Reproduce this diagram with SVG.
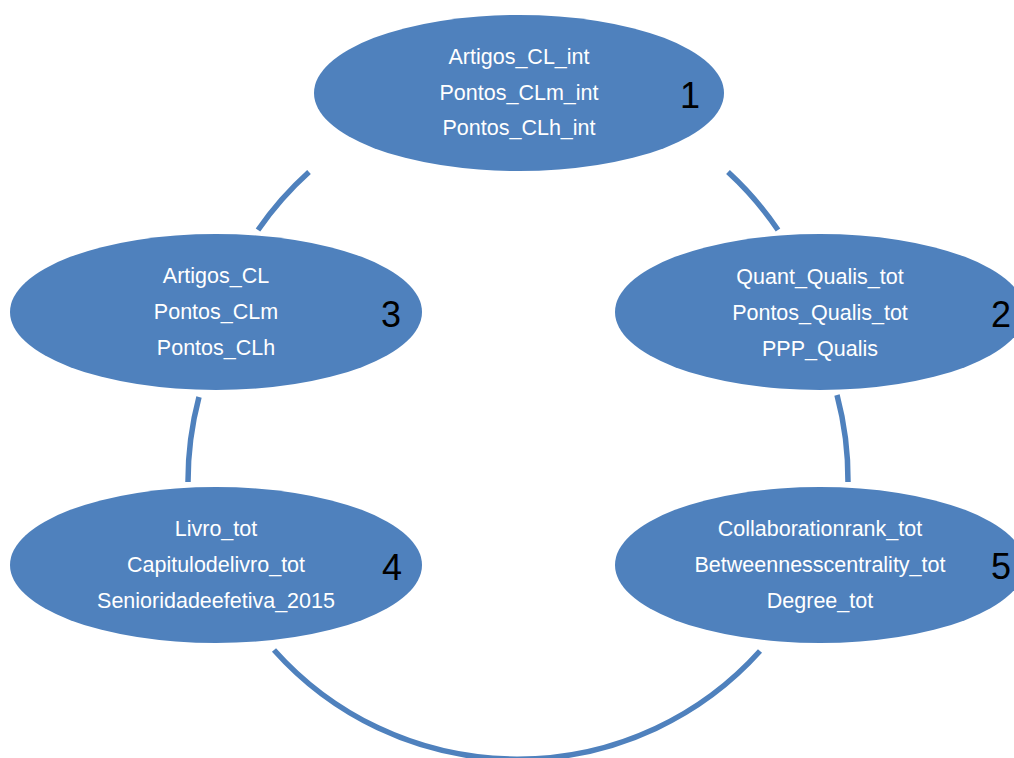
<svg xmlns="http://www.w3.org/2000/svg" width="1014" height="758" viewBox="0 0 1014 758">
<style>
.node{fill:#4F81BD;}
.lbl{fill:#FFFFFF;font-family:"Liberation Sans",Arial,sans-serif;font-size:21.5px;text-anchor:middle;}
.num{fill:#000000;font-family:"Liberation Sans",Arial,sans-serif;font-size:36px;text-anchor:middle;}
.conn{fill:none;stroke:#4F81BD;stroke-width:5.5;stroke-linecap:butt;}
</style>
<rect width="1014" height="758" fill="#FFFFFF"/>
<g id="connectors">
<path class="conn" d="M258,230 A330,330 0 0 1 309,172"/>
<path class="conn" d="M728,172 A330,330 0 0 1 778,230"/>
<path class="conn" d="M837,395 A330,330 0 0 1 848,482"/>
<path class="conn" d="M760,651 A326,326 0 0 1 274,650"/>
<path class="conn" d="M188,482 A330,330 0 0 1 199,397"/>
</g>
<g id="node1">
<ellipse class="node" cx="519" cy="93" rx="205" ry="78"/>
<text class="lbl" x="519" y="64">Artigos_CL_int</text>
<text class="lbl" x="519" y="100">Pontos_CLm_int</text>
<text class="lbl" x="519" y="135">Pontos_CLh_int</text>
<text class="num" x="690" y="108">1</text>
</g>
<g id="node2">
<ellipse class="node" cx="820" cy="312" rx="205" ry="78"/>
<text class="lbl" x="820" y="284">Quant_Qualis_tot</text>
<text class="lbl" x="820" y="320">Pontos_Qualis_tot</text>
<text class="lbl" x="820" y="356">PPP_Qualis</text>
<text class="num" x="1001" y="327">2</text>
</g>
<g id="node3">
<ellipse class="node" cx="216" cy="312" rx="206" ry="78"/>
<text class="lbl" x="216" y="283">Artigos_CL</text>
<text class="lbl" x="216" y="319">Pontos_CLm</text>
<text class="lbl" x="216" y="355">Pontos_CLh</text>
<text class="num" x="391" y="327">3</text>
</g>
<g id="node4">
<ellipse class="node" cx="216" cy="565" rx="206" ry="78"/>
<text class="lbl" x="216" y="536">Livro_tot</text>
<text class="lbl" x="216" y="572">Capitulodelivro_tot</text>
<text class="lbl" x="216" y="608">Senioridadeefetiva_2015</text>
<text class="num" x="392" y="580">4</text>
</g>
<g id="node5">
<ellipse class="node" cx="820" cy="565" rx="205" ry="78"/>
<text class="lbl" x="820" y="536">Collaborationrank_tot</text>
<text class="lbl" x="820" y="572">Betweennesscentrality_tot</text>
<text class="lbl" x="820" y="608">Degree_tot</text>
<text class="num" x="1001" y="579">5</text>
</g>
</svg>
